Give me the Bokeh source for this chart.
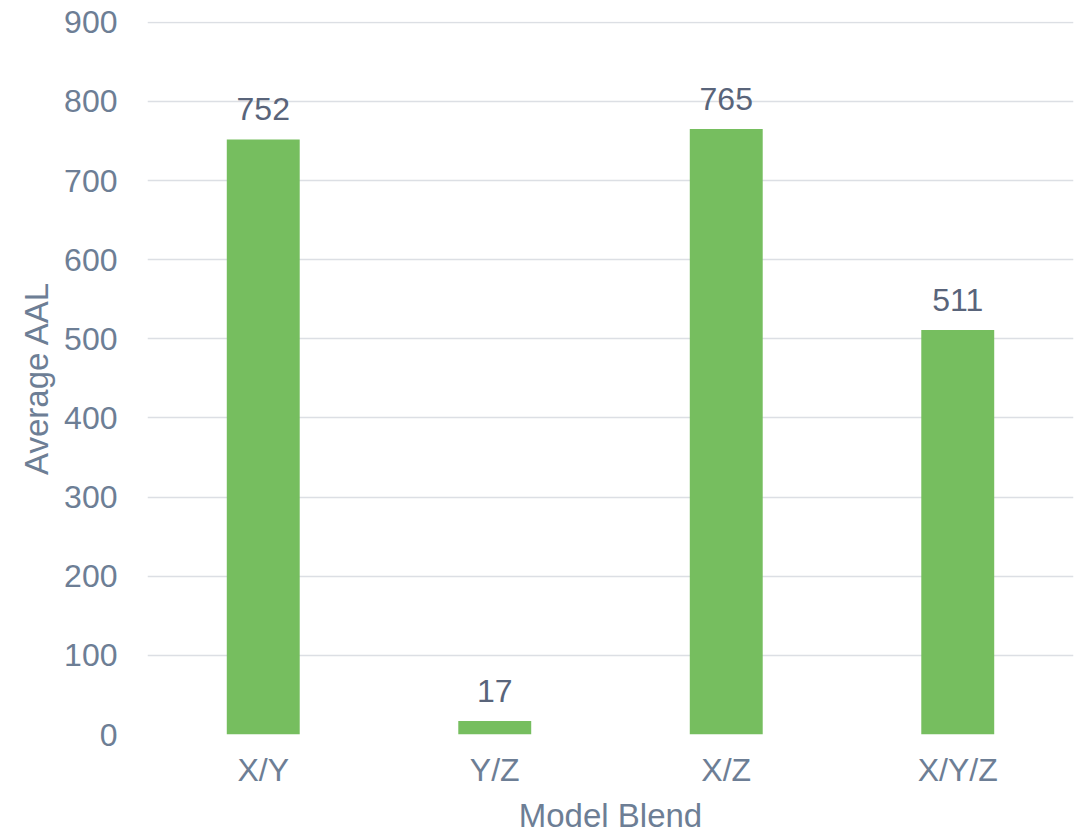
from bokeh.plotting import figure
from bokeh.models import ColumnDataSource, FixedTicker
from bokeh.core.properties import value
from bokeh.embed import file_html
from bokeh.resources import INLINE

categories = ["X/Y", "Y/Z", "X/Z", "X/Y/Z"]
aal_values = [752, 17, 765, 511]
y_ticks = [0, 100, 200, 300, 400, 500, 600, 700, 800, 900]

FONT = "Liberation Sans"
AXIS_COLOR = "#6d7e95"
LABEL_COLOR = "#59647a"
BAR_COLOR = "#76be5f"
GRID_COLOR = "#dcdfe4"

src = ColumnDataSource(dict(cat=categories, val=aal_values,
                            lab=[str(v) for v in aal_values]))

p = figure(x_range=categories, y_range=(0, 901),
           frame_width=926, frame_height=713,
           min_border_left=147, min_border_right=11,
           min_border_top=21, min_border_bottom=100,
           output_backend="svg", toolbar_location=None,
           background_fill_color="white", border_fill_color="white")
p.outline_line_color = None

p.vbar(x="cat", top="val", width=0.315, source=src,
       fill_color=BAR_COLOR, line_color=None)

p.text(x="cat", y="val", text="lab", source=src,
       text_align="center", text_baseline="alphabetic", y_offset=-30,
       text_font=value(FONT), text_font_size="32px", text_color=LABEL_COLOR)

p.xgrid.grid_line_color = None
p.ygrid.grid_line_color = GRID_COLOR
p.ygrid.grid_line_width = 1.5
p.ygrid.ticker = FixedTicker(ticks=y_ticks)

p.yaxis.ticker = FixedTicker(ticks=y_ticks)
p.yaxis.axis_label = "Average AAL"
p.xaxis.axis_label = "Model Blend"
for ax in (p.xaxis, p.yaxis):
    ax.axis_line_color = None
    ax.major_tick_line_color = None
    ax.minor_tick_line_color = None
    ax.major_label_text_font = FONT
    ax.major_label_text_font_size = "32px"
    ax.major_label_text_color = AXIS_COLOR
    ax.axis_label_text_font = FONT
    ax.axis_label_text_font_size = "33px"
    ax.axis_label_text_font_style = "normal"
    ax.axis_label_text_color = AXIS_COLOR
p.yaxis.major_label_standoff = 24
p.yaxis.axis_label_standoff = 6
p.xaxis.major_label_standoff = 11
p.xaxis.axis_label_standoff = 6

open("out.html", "w").write(file_html(p, INLINE))
